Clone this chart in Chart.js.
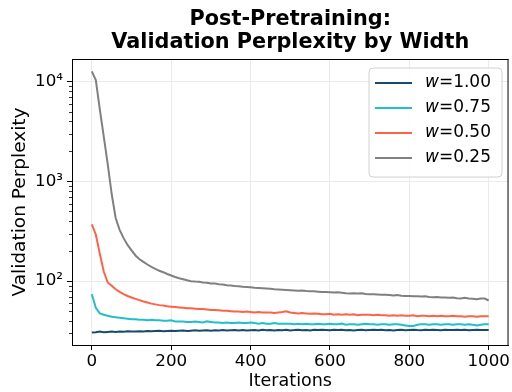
<!DOCTYPE html>
<html><head><meta charset="utf-8">
<script src="https://cdn.jsdelivr.net/npm/chart.js@4.4.0/dist/chart.umd.min.js"></script>
<style>html,body{margin:0;padding:0;background:#fff;}</style>
</head><body>
<canvas id="c" width="512" height="392" style="width:512px;height:392px;display:block"></canvas>
<script>
const titleLines = ['Post-Pretraining:', 'Validation Perplexity by Width'];
const xLabel = 'Iterations';
const yLabel = 'Validation Perplexity';
const xTicks = [0, 200, 400, 600, 800, 1000];
const yMajorTicks = [100, 1000, 10000];
const widthLabels = ['1.00', '0.75', '0.50', '0.25'];

const iterations = [
  0,10,20,30,40,50,60,70,80,90,
  100,110,120,130,140,150,160,170,180,190,
  200,210,220,230,240,250,260,270,280,290,
  300,310,320,330,340,350,360,370,380,390,
  400,410,420,430,440,450,460,470,480,490,
  500,510,520,530,540,550,560,570,580,590,
  600,610,620,630,640,650,660,670,680,690,
  700,710,720,730,740,750,760,770,780,790,
  800,810,820,830,840,850,860,870,880,890,
  900,910,920,930,940,950,960,970,980,990,
  1000
];

const pplW100 = [
  30.5,30.7,31.2,30.8,31,31.2,31,31.3,31.1,31.4,
  31.2,31.3,31.5,31.2,31.6,31.4,31.6,31.8,31.5,31.7,
  31.9,31.6,31.8,32,31.7,31.9,32.1,31.8,32,32.2,
  31.9,32.1,32,32.3,32,32.2,32.4,32.1,32.3,32,
  32.2,32.4,32.1,32.5,32.2,32.3,32,32.4,32.2,32.5,
  32.1,32.3,32.6,32.2,32.4,32.1,32.5,32.3,32.6,32.4,
  32.2,32.5,32.3,32.6,32.2,32.4,32.1,32.3,32.5,32.2,
  32.4,32.6,32.3,32.5,32.2,32.4,32.1,32.3,32.5,32.2,
  32.4,32.6,32.3,32.2,32.5,32.3,32.6,32.4,32.2,32.5,
  32.3,32.4,32.6,32.3,32.5,32.2,32.4,32.6,32.3,32.4,
  32.4
];
const pplW075 = [
  74,54,47.5,46,45,44,43.5,43,42.5,42,
  41.5,41.5,41,41,40.5,41,40.5,40.5,40,40,
  40.5,39.5,39.5,39.5,39,39,39.5,39,38.5,39.5,
  39,38.5,38.5,38,38.5,38,38,38.5,38,38,
  38.5,38,37.5,38,37.5,37.5,38,37.5,37.5,37.5,
  37.5,37,37.5,37,37.5,37,37,37.5,37,37,
  37.5,37,37,37.5,36.5,37,37,36.5,37,37.5,
  37,37,36.5,37,37,36.5,37,37,36.5,36,
  35.5,35.5,36.5,37,37,36.5,37,37,36.5,37,
  37,36.5,37,37,36.5,37,36.5,36,36.5,37,
  37
];
const pplW050 = [
  372,294,189,125,97,90,83,78,74,71,
  68.5,66.5,64.5,62.5,61,59.5,58.5,57.5,57,56,
  55.5,55,54.5,54,53.5,53.5,53,52.5,52.5,52,
  51.5,51.5,51,50.5,50.5,50,49.5,49.5,49,49.5,
  49,48.5,49,48.5,48.5,48.5,48,48.5,49,50,
  48.5,48,47.5,48,47.5,47,47.5,47,46.5,46.5,
  47,46,46.5,46,46.5,46,46.5,45.5,46,46,
  46,45.5,46,45.5,45.5,45,45.5,45,45.5,45,
  45,45.5,44.5,45,45,44.5,45,44.5,45,44.5,
  44.5,45,44.5,44.5,44,44.5,44.5,44,44.5,44.5,
  44.5
];
const pplW025 = [
  12700,10400,5300,2830,1490,748,430,327,270,231,
  204,181,166,156,147,139,133,127,123,118,
  114,110,107,104.5,102,100,99,98.5,97,96.5,
  95,94.5,93,92.5,91,90.5,89.5,89,88,87.5,
  87,86,85.5,85,84.5,84,83,82.5,82,81.5,
  81,80.5,80,80.5,79.5,79,79,78.5,78,78,
  77.5,77,77.5,76.5,75.5,75,75.5,75,75.5,74.5,
  74,74,73.5,73,73,72.5,72,72.5,71.5,71,
  71,70.5,70.5,70,70.5,69.5,69,69.5,68.5,68.5,
  68,68.5,67.5,67,68,67,66.5,66,67,67,
  64
];

const seriesValues = [pplW100, pplW075, pplW050, pplW025];
const seriesColors = ['#184a6c', '#1fc0ca', '#ff6347', '#808080'];
const FONT = "'DejaVu Sans', sans-serif";

const datasets = seriesValues.map((vals, i) => ({
  label: 'w=' + widthLabels[i],
  data: iterations.map((x, j) => ({x: x, y: vals[j]})),
  borderColor: seriesColors[i],
  backgroundColor: seriesColors[i],
  borderWidth: 2,
  pointRadius: 0,
  tension: 0,
  fill: false
}));

const isMajor = v => yMajorTicks.includes(v);
const supMap = {'0':'\u2070','1':'\u00b9','2':'\u00b2','3':'\u00b3','4':'\u2074','5':'\u2075','6':'\u2076','7':'\u2077','8':'\u2078','9':'\u2079'};

const decorPlugin = {
  id: 'decor',
  afterDatasetsDraw(chart) {
    const ctx = chart.ctx;
    const a = chart.chartArea;
    const ys = chart.scales.y;
    ctx.save();
    ctx.strokeStyle = '#000';
    ctx.lineWidth = 0.8;
    ys.ticks.forEach(t => {
      if (!isMajor(t.value)) {
        const py = Math.round(ys.getPixelForValue(t.value)) + 0.5;
        ctx.beginPath();
        ctx.moveTo(a.left - 3, py);
        ctx.lineTo(a.left, py);
        ctx.stroke();
      }
    });
    ctx.strokeStyle = '#000';
    ctx.lineWidth = 1;
    ctx.beginPath();
    ctx.moveTo(a.left, a.top + 0.5);
    ctx.lineTo(a.right, a.top + 0.5);
    ctx.moveTo(a.right - 0.5, a.top);
    ctx.lineTo(a.right - 0.5, a.bottom);
    ctx.stroke();

    const bx = 369, by = 68, bw = 133, bh = 109, r = 4;
    ctx.beginPath();
    ctx.moveTo(bx + r, by);
    ctx.arcTo(bx + bw, by, bx + bw, by + bh, r);
    ctx.arcTo(bx + bw, by + bh, bx, by + bh, r);
    ctx.arcTo(bx, by + bh, bx, by, r);
    ctx.arcTo(bx, by, bx + bw, by, r);
    ctx.closePath();
    ctx.fillStyle = 'rgba(255,255,255,0.85)';
    ctx.fill();
    ctx.strokeStyle = '#d0d0d0';
    ctx.lineWidth = 1;
    ctx.stroke();
    chart.data.datasets.forEach((ds, i) => {
      const ly = 83 + i * 25;
      ctx.strokeStyle = ds.borderColor;
      ctx.lineWidth = 2;
      ctx.beginPath();
      ctx.moveTo(375, ly);
      ctx.lineTo(412, ly);
      ctx.stroke();
      const lbl = ds.label;
      ctx.fillStyle = '#000';
      ctx.textBaseline = 'middle';
      ctx.textAlign = 'left';
      ctx.font = 'italic 17px ' + FONT;
      const w0 = lbl.charAt(0);
      ctx.fillText(w0, 425, ly);
      const wW = ctx.measureText(w0).width;
      ctx.font = '17px ' + FONT;
      ctx.fillText(lbl.slice(1), 425 + wW, ly);
    });

    ctx.fillStyle = '#000';
    ctx.font = 'bold 20.8px ' + FONT;
    ctx.textAlign = 'center';
    ctx.textBaseline = 'alphabetic';
    const cx = (a.left + a.right) / 2;
    ctx.fillText(titleLines[0], cx, 24.5);
    ctx.fillText(titleLines[1], cx, 47.5);
    ctx.restore();
  }
};

new Chart(document.getElementById('c'), {
  type: 'line',
  data: { datasets: datasets },
  options: {
    responsive: false,
    devicePixelRatio: 1,
    animation: false,
    layout: { padding: { top: 59, right: 2, left: 0, bottom: 0 } },
    plugins: { legend: { display: false }, title: { display: false }, tooltip: { enabled: false } },
    scales: {
      x: {
        type: 'linear',
        min: -50,
        max: 1050,
        afterBuildTicks: s => { s.ticks = xTicks.map(v => ({ value: v })); },
        afterFit: s => { s.height = 47; },
        ticks: { font: { family: FONT, size: 16.7 }, color: '#000', padding: 2, maxRotation: 0, autoSkip: false,
          callback: v => String(v) },
        grid: { color: '#ebebeb', lineWidth: 1, tickColor: '#000', tickLength: 5 },
        border: { color: '#000', width: 1 },
        title: { display: true, text: xLabel, font: { family: FONT, size: 17.5 }, color: '#000', padding: { top: 0, bottom: 0 } }
      },
      y: {
        type: 'logarithmic',
        min: 22.9,
        max: 16900,
        afterBuildTicks: s => {
          const t = [];
          for (let e = 1; e <= 4; e++) {
            for (let m = 1; m <= 9; m++) {
              const v = m * Math.pow(10, e);
              if (v >= s.min && v <= s.max) t.push({ value: v });
            }
          }
          s.ticks = t;
        },
        afterFit: s => { s.width = 72; },
        ticks: {
          font: { family: FONT, size: 16.7 }, color: '#000', padding: 4, autoSkip: false,
          callback: v => isMajor(v) ? '10' + String(Math.round(Math.log10(v))).split('').map(c => supMap[c]).join('') : ''
        },
        grid: {
          color: c => (c.tick && isMajor(c.tick.value)) ? '#ebebeb' : 'rgba(0,0,0,0)',
          tickColor: c => (c.tick && isMajor(c.tick.value)) ? '#000' : 'rgba(0,0,0,0)',
          lineWidth: 1, tickLength: 5
        },
        border: { color: '#000', width: 1 },
        title: { display: true, text: yLabel, font: { family: FONT, size: 18.5 }, color: '#000', padding: { top: 9, bottom: 0 } }
      }
    }
  },
  plugins: [decorPlugin]
});
</script>
</body></html>
